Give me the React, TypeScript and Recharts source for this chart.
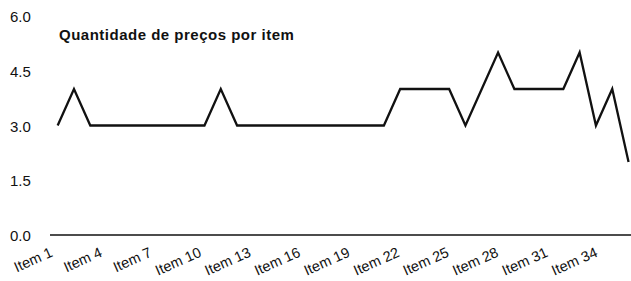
import React from 'react';
import { LineChart, Line, XAxis, YAxis } from 'recharts';

const categories = [
  'Item 1', 'Item 2', 'Item 3', 'Item 4', 'Item 5', 'Item 6', 'Item 7', 'Item 8', 'Item 9',
  'Item 10', 'Item 11', 'Item 12', 'Item 13', 'Item 14', 'Item 15', 'Item 16', 'Item 17', 'Item 18',
  'Item 19', 'Item 20', 'Item 21', 'Item 22', 'Item 23', 'Item 24', 'Item 25', 'Item 26', 'Item 27',
  'Item 28', 'Item 29', 'Item 30', 'Item 31', 'Item 32', 'Item 33', 'Item 34', 'Item 35', 'Item 36',
];

const quantities = [
  3, 4, 3, 3, 3, 3, 3, 3, 3,
  3, 4, 3, 3, 3, 3, 3, 3, 3,
  3, 3, 3, 4, 4, 4, 4, 3, 4,
  5, 4, 4, 4, 4, 5, 3, 4, 2,
];

// every third item gets a label
const xTicks = [1, 4, 7, 10, 13, 16, 19, 22, 25, 28, 31, 34];
const yTicks = [0, 1.5, 3, 4.5, 6];

const title = 'Quantidade de preços por item';

const data = categories.map((name, i) => ({ n: i + 1, name, value: quantities[i] }));

const FONT = '"Liberation Sans", Arial, sans-serif';

const XTick = ({ x, y, payload }: any) => {
  // labels drift slightly right of their points in the original
  const ax = x - 4 + (payload.value - 1) * 0.2;
  const ay = y + 21;
  return (
    <text
      x={ax}
      y={ay}
      transform={`rotate(-24, ${ax}, ${ay})`}
      textAnchor="end"
      fontSize={14.5}
      fontFamily={FONT}
      fill="#111"
    >
      {categories[payload.value - 1]}
    </text>
  );
};

const YTick = ({ y, payload }: any) => (
  <text x={10} y={y + 6} textAnchor="start" fontSize={15} fontFamily={FONT} fill="#111">
    {Number(payload.value).toFixed(1)}
  </text>
);

export default function App() {
  return (
    <div style={{ position: 'absolute', left: 0, top: 0, width: 631, height: 281, background: '#fff' }}>
      <LineChart width={631} height={281} data={data} margin={{ top: 16, right: 0, bottom: 0, left: 0 }}>
        <XAxis
          dataKey="n"
          type="number"
          domain={[0.53, 36.15]}
          allowDataOverflow
          ticks={xTicks}
          interval={0}
          tick={<XTick />}
          tickLine={false}
          tickSize={0}
          tickMargin={0}
          height={46}
          axisLine={{ stroke: '#111', strokeWidth: 1.6 }}
        />
        <YAxis
          domain={[0, 6]}
          ticks={yTicks}
          width={50}
          tick={<YTick />}
          axisLine={false}
          tickLine={false}
        />
        <Line
          type="linear"
          dataKey="value"
          stroke="#111"
          strokeWidth={2.3}
          dot={false}
          isAnimationActive={false}
        />
      </LineChart>
      <div
        style={{
          position: 'absolute',
          left: 59,
          top: 27,
          fontFamily: FONT,
          fontWeight: 'bold',
          fontSize: 15,
          lineHeight: '15px',
          letterSpacing: 0.5,
          color: '#111',
          whiteSpace: 'nowrap',
        }}
      >
        {title}
      </div>
    </div>
  );
}
